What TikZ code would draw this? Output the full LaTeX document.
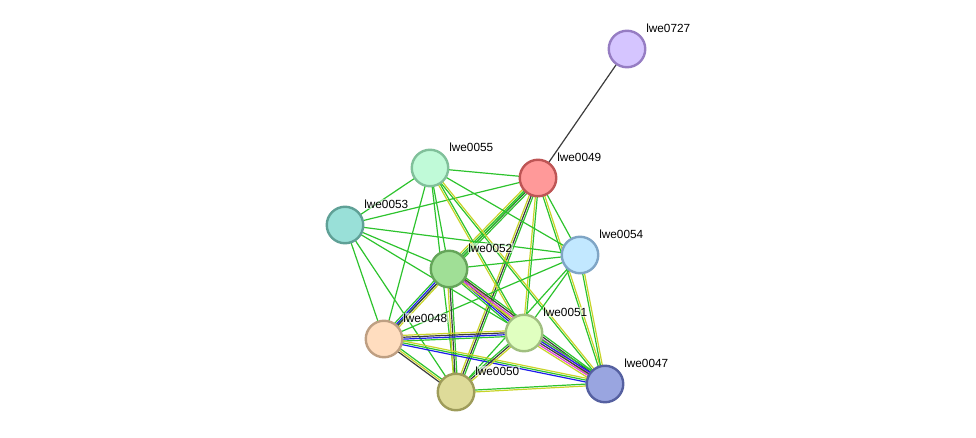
\documentclass[tikz,border=0pt]{standalone}
\usepackage{fontspec}
\setmainfont{Liberation Sans}
\usetikzlibrary{calc,backgrounds}

\definecolor{nbh}{RGB}{45,195,45}
\definecolor{txt}{RGB}{200,212,40}
\definecolor{coex}{RGB}{60,60,60}
\definecolor{blu}{RGB}{30,30,235}
\definecolor{mag}{RGB}{225,60,225}

% protein fills and rims
\definecolor{f727}{RGB}{213,197,255}\definecolor{d727}{RGB}{150,125,195}
\definecolor{f49}{RGB}{255,153,153}\definecolor{d49}{RGB}{190,85,85}
\definecolor{f55}{RGB}{192,250,216}\definecolor{d55}{RGB}{128,192,154}
\definecolor{f53}{RGB}{153,224,216}\definecolor{d53}{RGB}{95,160,150}
\definecolor{f54}{RGB}{194,232,255}\definecolor{d54}{RGB}{127,165,197}
\definecolor{f52}{RGB}{160,223,150}\definecolor{d52}{RGB}{101,165,90}
\definecolor{f48}{RGB}{255,221,191}\definecolor{d48}{RGB}{190,159,130}
\definecolor{f51}{RGB}{224,255,192}\definecolor{d51}{RGB}{160,191,128}
\definecolor{f50}{RGB}{222,219,153}\definecolor{d50}{RGB}{158,156,90}
\definecolor{f47}{RGB}{153,165,224}\definecolor{d47}{RGB}{85,96,160}

% multi-coloured link between two nodes, one parallel line per colour
\newcommand{\lnk}[3]{%
  \foreach \c [count=\n] in {#3} {\xdef\lnkn{\n}}%
  \foreach \c [count=\k] in {#3} {%
    \pgfmathsetmacro{\off}{(\k-(\lnkn+1)/2)*1.9}%
    \draw[edge,\c] ($(#1)!\off pt!90:(#2)$) -- ($(#2)!\off pt!-90:(#1)$);
  }%
}

\begin{document}
\begin{tikzpicture}[
    x=1pt, y=-1pt,
    prot/.style={circle, draw=d#1, fill=f#1, line width=2.4pt, minimum size=36.5pt, inner sep=0pt},
    lbl/.style={font=\fontsize{11.8}{14}\selectfont, inner sep=0.6pt, label distance=-1pt, yshift=21pt,
      fill=white, fill opacity=0.55, text opacity=1},
    edge/.style={line width=1.2pt}
]
\useasboundingbox (0,0) rectangle (976,438);

% Proteins
\node[prot=727, label={[lbl]0:lwe0727}] (n727) at (627,49) {};
\node[prot=49, label={[lbl]0:lwe0049}] (n49) at (538,178) {};
\node[prot=55, label={[lbl]0:lwe0055}] (n55) at (430,168) {};
\node[prot=53, label={[lbl]0:lwe0053}] (n53) at (345,225) {};
\node[prot=54, label={[lbl]0:lwe0054}] (n54) at (580,255) {};
\node[prot=52, label={[lbl]0:lwe0052}] (n52) at (449,269) {};
\node[prot=48, label={[lbl]0:lwe0048}] (n48) at (384,339) {};
\node[prot=51, label={[lbl]0:lwe0051}] (n51) at (524,333) {};
\node[prot=50, label={[lbl]0:lwe0050}] (n50) at (456,392) {};
\node[prot=47, label={[lbl]0:lwe0047}] (n47) at (605,384) {};

% Links
\begin{pgfonlayer}{background}
\lnk{n727}{n49}{coex}
\lnk{n49}{n55}{nbh}
\lnk{n49}{n53}{nbh}
\lnk{n49}{n54}{nbh}
\lnk{n49}{n52}{txt,nbh,coex,nbh}
\lnk{n49}{n48}{nbh}
\lnk{n49}{n51}{txt,nbh}
\lnk{n49}{n50}{txt,coex,nbh}
\lnk{n49}{n47}{nbh,txt}
\lnk{n55}{n53}{nbh}
\lnk{n55}{n54}{nbh}
\lnk{n55}{n52}{nbh}
\lnk{n55}{n48}{nbh}
\lnk{n55}{n50}{nbh}
\lnk{n55}{n51}{txt,nbh}
\lnk{n55}{n47}{nbh,txt}
\lnk{n53}{n54}{nbh}
\lnk{n53}{n52}{nbh}
\lnk{n53}{n51}{nbh}
\lnk{n53}{n48}{nbh}
\lnk{n53}{n50}{nbh}
\lnk{n54}{n52}{nbh}
\lnk{n54}{n48}{nbh}
\lnk{n54}{n51}{nbh}
\lnk{n54}{n50}{nbh}
\lnk{n54}{n47}{nbh,txt}
\lnk{n52}{n48}{nbh,blu,coex,txt}
\lnk{n52}{n51}{nbh,blu,coex,txt}
\lnk{n52}{n47}{txt,mag,coex,nbh}
\lnk{n52}{n50}{txt,coex,nbh}
\lnk{n48}{n51}{nbh,blu,coex,txt}
\lnk{n48}{n50}{coex,txt,nbh}
\lnk{n48}{n47}{blu,nbh,txt}
\lnk{n51}{n50}{nbh,coex,txt}
\lnk{n51}{n47}{txt,mag,coex,blu,nbh}
\lnk{n50}{n47}{txt,nbh}
\end{pgfonlayer}

\end{tikzpicture}
\end{document}
